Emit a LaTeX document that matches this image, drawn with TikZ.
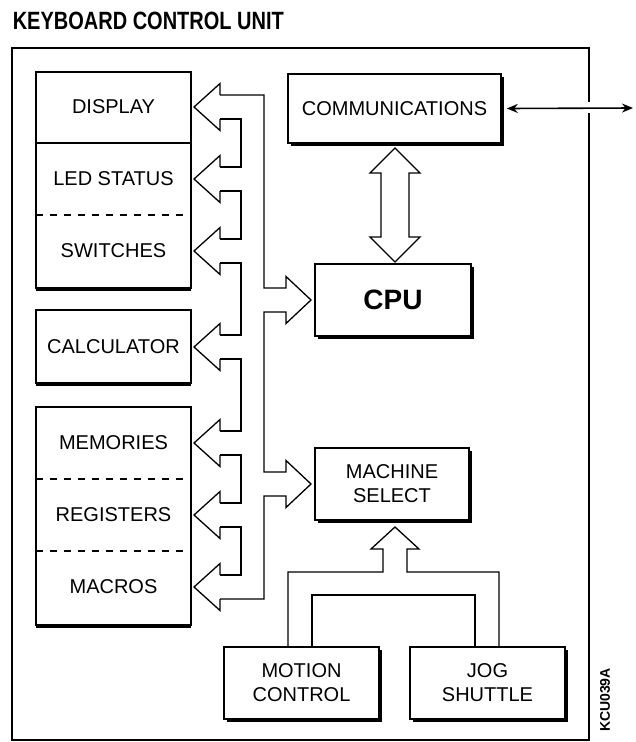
\documentclass[tikz,border=0pt]{standalone}
\usepackage{fontspec}
\setmainfont{Liberation Sans}
\usetikzlibrary{arrows.meta,shadows}

\begin{document}
\begin{tikzpicture}[
  x=1pt, y=-1pt,
  line width=1.6pt,
  block/.style={draw, fill=white, inner sep=0pt, minimum width=155pt, minimum height=72pt,
    align=center, font=\fontsize{20}{24}\selectfont},
  rshadow/.style={drop shadow={shadow xshift=2.5pt, shadow yshift=-2.5pt, opacity=1, fill=black}},
  bshadow/.style={drop shadow={shadow xshift=0pt, shadow yshift=-2.5pt, opacity=1, fill=black}},
  boxtext/.style={inner sep=0pt, font=\fontsize{20}{24}\selectfont},
  fatarrow/.style={line width=1.3pt, line join=miter},
  linkarrow/.style={{Stealth[length=11pt, width=9pt]}-{Stealth[length=11pt, width=9pt]}}
]
\useasboundingbox (0,0) rectangle (635,742);

% title and frame
\node[anchor=base west, inner sep=0pt, font=\fontsize{20}{24}\selectfont\bfseries]
  (title) at (12,29) {\scalebox{1}[1.25]{KEYBOARD CONTROL UNIT}};
\draw (589,102) -- (589,48) -- (12,48) -- (12,740) -- (589,740) -- (589,113);
\node[rotate=90, inner sep=0pt, font=\fontsize{14}{16}\selectfont\bfseries]
  (code) at (605,700) {KCU039A};

% left column
\node[block, bshadow, minimum height=216pt] (panel) at (113.5,180) {};
\node[boxtext] (disp) at (113.5,107) {DISPLAY};
\node[boxtext] (led) at (113.5,179) {LED STATUS};
\node[boxtext] (sw) at (113.5,251) {SWITCHES};
\draw (36,143) -- (191,143);
\draw[dash pattern=on 7pt off 7pt] (36,215) -- (191,215);

\node[block, bshadow, minimum height=73pt] (calc) at (113.5,346.5) {CALCULATOR};

\node[block, bshadow, minimum height=218pt] (store) at (113.5,516) {};
\node[boxtext] (mem) at (113.5,443) {MEMORIES};
\node[boxtext] (reg) at (113.5,515) {REGISTERS};
\node[boxtext] (mac) at (113.5,587) {MACROS};
\draw[dash pattern=on 7pt off 7pt] (36,479) -- (191,479);
\draw[dash pattern=on 7pt off 7pt] (36,551) -- (191,551);

% right column
\node[block, rshadow, minimum width=213pt, minimum height=69pt] (comm) at (394.5,108.5) {COMMUNICATIONS};
\node[block, rshadow, minimum width=156pt, font=\fontsize{28}{32}\selectfont\bfseries] (cpu) at (393,300) {CPU};
\node[block, rshadow, minimum width=154pt] (msel) at (392,484) {MACHINE\\SELECT};
\node[block, rshadow] (motion) at (301.5,683) {MOTION\\CONTROL};
\node[block, rshadow] (jog) at (487.5,683) {JOG\\SHUTTLE};

% external link
\coordinate (ext) at (633,108);
\draw[linkarrow] ([xshift=5pt]comm.east) -- (ext);

% bus heads on the left
\foreach \yc in {107,179,251,347,443,515,587}
  \draw[fatarrow] (220,{\yc-12}) -- (220,{\yc-23.5}) -- (194,\yc) -- (220,{\yc+23.5}) -- (220,{\yc+12});
\foreach \ya/\yb in {107/179,179/251,251/347,347/443,443/515,515/587}
  \draw[fatarrow] (220,{\ya+12}) -- (241,{\ya+12}) -- (241,{\yb-12}) -- (220,{\yb-12});

% bus spine with CPU and MACHINE SELECT heads
\draw[fatarrow] (220,95) -- (264,95) -- (264,288) -- (286,288) -- (286,276.5) -- (311,300)
  -- (286,323.5) -- (286,312) -- (264,312) -- (264,472) -- (286,472) -- (286,460.5)
  -- (311,484) -- (286,507.5) -- (286,496) -- (264,496) -- (264,599) -- (220,599);

% COMMUNICATIONS <-> CPU
\draw[fatarrow] (395,148) -- (420,173) -- (409,173) -- (409,237) -- (420,237) -- (395,262)
  -- (370,237) -- (381,237) -- (381,173) -- (370,173) -- cycle;

% MOTION CONTROL and JOG SHUTTLE -> MACHINE SELECT
\draw[fatarrow] (288,647) -- (288,572) -- (383,572) -- (383,549) -- (371,549) -- (395,527)
  -- (419,549) -- (407,549) -- (407,572) -- (499,572) -- (499,647);
\draw[fatarrow] (312,647) -- (312,595) -- (475,595) -- (475,647);
\end{tikzpicture}
\end{document}
